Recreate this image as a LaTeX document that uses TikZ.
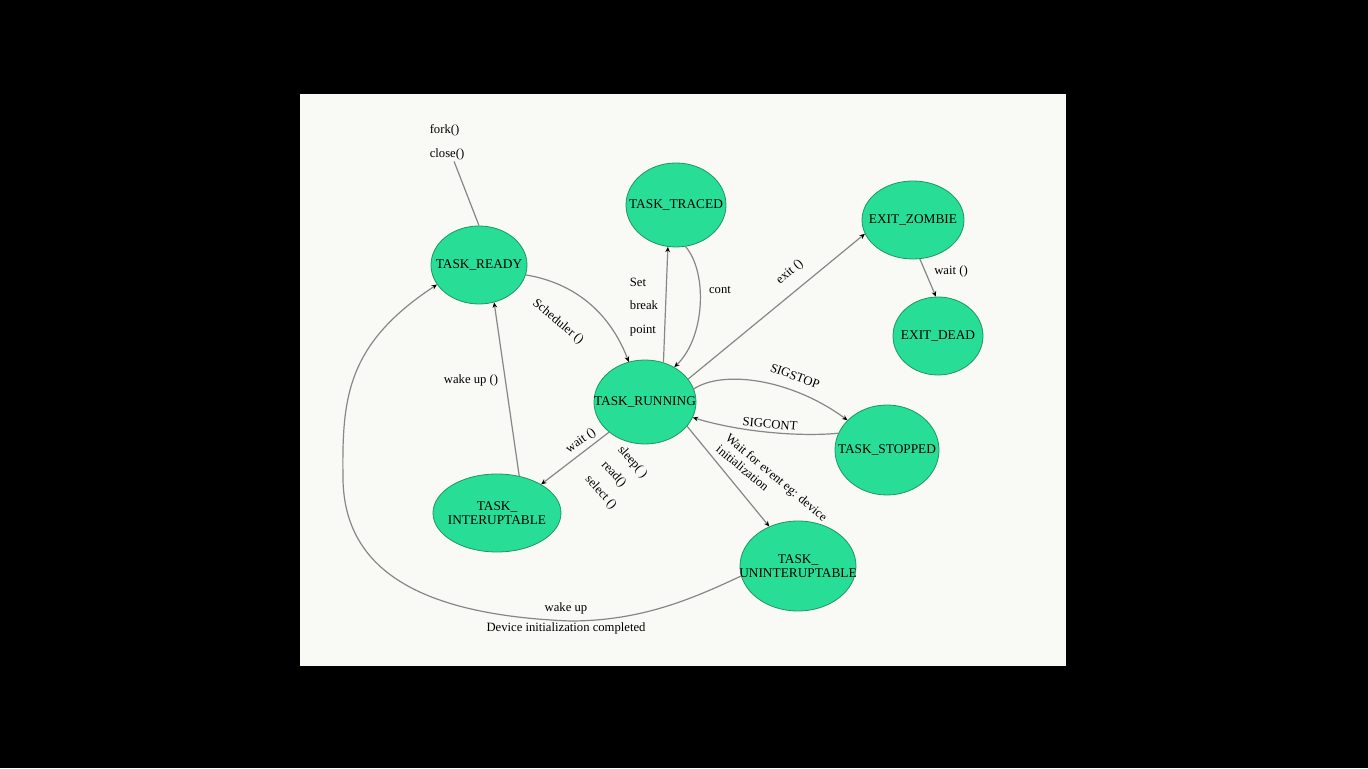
\documentclass[tikz,border=0pt]{standalone}
\usepackage{fontspec}
\setmainfont{Liberation Serif}
\usepackage{tikz}
\usetikzlibrary{arrows.meta,shapes.geometric}

\definecolor{stategreen}{RGB}{40,222,150}
\definecolor{stateedge}{RGB}{30,150,100}
\definecolor{wirecol}{RGB}{135,135,135}
\definecolor{slide}{RGB}{249,249,246}

\begin{document}
\begin{tikzpicture}[x=0.75pt, y=0.75pt,
  state/.style={ellipse, draw=stateedge, fill=stategreen, inner sep=0pt, line width=0.6pt},
  stname/.style={font=\fontsize{10}{11}\selectfont, align=center, inner sep=0pt},
  lbl/.style={font=\fontsize{9.5}{11}\selectfont, inner sep=1pt},
  link/.style={draw=wirecol, line width=0.9pt},
  arr/.style={link, -{Stealth[length=4pt, width=3.5pt, color=black]}}]
  \fill[black] (0,0) rectangle (1368,768);
  \fill[slide] (300,102) rectangle (1066,674);
  \useasboundingbox (0,0) rectangle (1368,768);
  % states
  \node[state, minimum width=72pt, minimum height=58.5pt, label={[stname]center:TASK\_READY}] (ready) at (479,503) {};
  \node[state, minimum width=75pt, minimum height=63pt, label={[stname]center:TASK\_TRACED}] (traced) at (676,563) {};
  \node[state, minimum width=76.5pt, minimum height=58.5pt, label={[stname]center:EXIT\_ZOMBIE}] (zombie) at (913,548) {};
  \node[state, minimum width=67.5pt, minimum height=58.5pt, label={[stname]center:EXIT\_DEAD}] (dead) at (938,432) {};
  \node[state, minimum width=76.5pt, minimum height=63pt, label={[stname]center:TASK\_RUNNING}] (running) at (645,366) {};
  \node[state, minimum width=78pt, minimum height=67.5pt, label={[stname]center:TASK\_STOPPED}] (stopped) at (887,318) {};
  \node[state, minimum width=96pt, minimum height=58.5pt, label={[stname]center:{TASK\_\\INTERUPTABLE}}] (intr) at (497,255) {};
  \node[state, minimum width=87pt, minimum height=67.5pt, label={[stname]center:{TASK\_\\UNINTERUPTABLE}}] (unintr) at (798,202) {};
  % labels
  \node[lbl, align=left, font=\fontsize{9.5}{18}\selectfont] (forkl) at (447,626) {fork()\\close()};
  \node[lbl, rotate=-40] (schedl) at (558,446) {Scheduler ()};
  \node[lbl, align=left, font=\fontsize{9.5}{17.5}\selectfont] (bpl) at (644,461) {Set\\break\\point};
  \node[lbl] (contl) at (720,478) {cont};
  \node[lbl, rotate=40] (exitl) at (790,496) {exit ()};
  \node[lbl] (waitzl) at (951,497) {wait ()};
  \node[lbl, rotate=-20] (stopl) at (795,392) {SIGSTOP};
  \node[lbl, rotate=-5] (contsl) at (770,344) {SIGCONT};
  \node[lbl, rotate=-40, align=left] (eventl) at (772,285) {Wait for event eg: device\\initialization};
  \node[lbl, rotate=35] (waitil) at (581,327) {wait ()};
  \node[lbl, rotate=-48, align=left, font=\fontsize{9.5}{16.5}\selectfont] (sleepl) at (617,290) {sleep( )\\read()\\select ()};
  \node[lbl] (wakel) at (471,388) {wake up ()};
  \node[lbl, align=center, font=\fontsize{9.5}{15}\selectfont] (devl) at (566,150) {wake up\\Device initialization completed};
  % transitions
  \draw[link] (forkl.-70) -- (ready.north);
  \draw[arr] (ready.-12) .. controls (575,485) and (610,455) .. (running.112);
  \draw[arr] (running.65) -- (traced.259);
  \draw[arr] (traced.283) .. controls (708,495) and (705,430) .. (running.50);
  \draw[arr] (running.28) -- (zombie.196);
  \draw[arr] (zombie.280) -- (dead.93);
  \draw[arr] (running.15) .. controls (722,398) and (790,390) .. (stopped.143);
  \draw[arr] (stopped.161) .. controls (800,331) and (740,336) .. (running.-18);
  \draw[arr] (running.-30) -- (unintr.126);
  \draw[arr] (running.220) -- (intr.33);
  \draw[arr] (intr.59) -- (ready.-68);
  \draw[arr] (unintr.190) .. controls (690,168) and (640,147) .. (570,147)
    .. controls (420,153) and (345,198) .. (343,288)
    .. controls (342,368) and (345,423) .. (ready.205);
\end{tikzpicture}
\end{document}
